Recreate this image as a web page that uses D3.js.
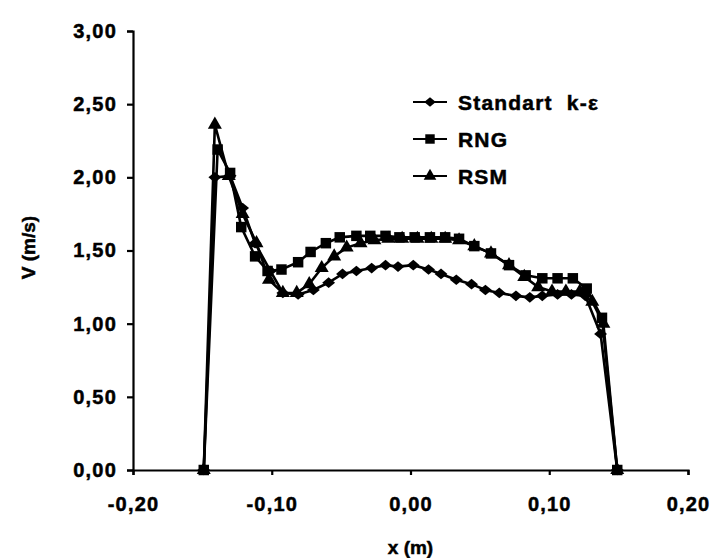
<!DOCTYPE html>
<html>
<head>
<meta charset="utf-8">
<script src="https://cdn.jsdelivr.net/npm/d3@7"></script>
<style>
  body { margin: 0; background: #fff; }
  svg text { font-family: "Liberation Sans", Arial, sans-serif; font-weight: bold; fill: #000; stroke: #000; stroke-width: 0.5px; }
</style>
</head>
<body>
<div id="chart"></div>
<script>
// series (x in m, V in m/s)
const xStd = [-0.149, -0.141, -0.130, -0.121, -0.112, -0.101, -0.092, -0.081, -0.070, -0.059, -0.049, -0.039, -0.028, -0.018, -0.009, 0.002, 0.013, 0.022, 0.033, 0.044, 0.054, 0.064, 0.076, 0.086, 0.095, 0.106, 0.116, 0.126, 0.137, 0.149];
const vStd = [0, 2.00, 2.01, 1.79, 1.55, 1.36, 1.21, 1.20, 1.23, 1.28, 1.34, 1.36, 1.38, 1.40, 1.39, 1.40, 1.37, 1.34, 1.30, 1.27, 1.23, 1.21, 1.19, 1.18, 1.19, 1.20, 1.20, 1.19, 0.93, 0];

const xRng = [-0.149, -0.139, -0.130, -0.122, -0.112, -0.103, -0.093, -0.081, -0.072, -0.061, -0.051, -0.039, -0.029, -0.018, -0.008, 0.003, 0.014, 0.025, 0.035, 0.046, 0.058, 0.071, 0.083, 0.095, 0.106, 0.117, 0.127, 0.138, 0.149];
const vRng = [0, 2.19, 2.03, 1.66, 1.46, 1.36, 1.37, 1.42, 1.49, 1.55, 1.59, 1.60, 1.60, 1.60, 1.59, 1.59, 1.59, 1.59, 1.58, 1.53, 1.48, 1.40, 1.33, 1.31, 1.31, 1.31, 1.24, 1.04, 0];

const xRsm = [-0.149, -0.141, -0.131, -0.121, -0.111, -0.102, -0.092, -0.082, -0.073, -0.064, -0.055, -0.046, -0.036, -0.026, -0.016, -0.006, 0.005, 0.015, 0.025, 0.035, 0.046, 0.058, 0.071, 0.082, 0.092, 0.102, 0.112, 0.122, 0.131, 0.139, 0.149];
const vRsm = [0, 2.36, 2.01, 1.75, 1.55, 1.30, 1.21, 1.21, 1.27, 1.38, 1.46, 1.52, 1.55, 1.57, 1.58, 1.58, 1.58, 1.58, 1.58, 1.57, 1.53, 1.48, 1.40, 1.32, 1.25, 1.22, 1.22, 1.22, 1.15, 1.00, 0];

const seriesNames = ["Standart  k-\u03b5", "RNG", "RSM"];
const xTicks = [-0.20, -0.10, 0.00, 0.10, 0.20];
const yTicks = [0, 0.5, 1.0, 1.5, 2.0, 2.5, 3.0];

const width = 714, height = 558;
const margin = {top: 31, right: 26, bottom: 88, left: 133};

const svg = d3.select("#chart").append("svg")
  .attr("width", width)
  .attr("height", height);

const x = d3.scaleLinear().domain([-0.2, 0.2]).range([margin.left, width - margin.right]);
const y = d3.scaleLinear().domain([0, 3]).range([height - margin.bottom, margin.top]);

const locale = d3.formatLocale({decimal: ",", thousands: ".", grouping: [3], currency: ["", ""], minus: "-"});
const fmt = locale.format(".2f");

// axes
const yAxis = svg.append("g")
  .attr("transform", `translate(${margin.left},0)`)
  .call(d3.axisLeft(y).tickValues(yTicks).tickFormat(fmt).tickSize(6).tickPadding(10));
const xAxis = svg.append("g")
  .attr("transform", `translate(0,${height - margin.bottom})`)
  .call(d3.axisBottom(x).tickValues(xTicks).tickFormat(fmt).tickSize(5).tickPadding(22));

[yAxis, xAxis].forEach(g => {
  g.selectAll("path, line").attr("stroke", "#000").attr("stroke-width", 2.2);
  g.selectAll("text").style("font-size", "20px").style("letter-spacing", "1.2px");
});

// axis titles
svg.append("text")
  .attr("transform", `translate(35,${y(1.52)}) rotate(-90)`)
  .attr("text-anchor", "middle")
  .style("font-size", "19px")
  .text("V (m/s)");
svg.append("text")
  .attr("x", x(0))
  .attr("y", 554)
  .attr("text-anchor", "middle")
  .style("font-size", "19px")
  .text("x (m)");

const series = [
  {name: seriesNames[0], xs: xStd, vs: vStd, type: d3.symbolDiamond2, size: 80, sx: 1.15, sy: 0.95},
  {name: seriesNames[1], xs: xRng, vs: vRng, type: d3.symbolSquare, size: 110, sx: 1, sy: 1},
  {name: seriesNames[2], xs: xRsm, vs: vRsm, type: d3.symbolTriangle, size: 85, sx: 1, sy: 1}
];

const line = d3.line().x(d => x(d[0])).y(d => y(d[1]));

series.forEach(s => {
  const pts = s.xs.map((v, i) => [v, s.vs[i]]);
  svg.append("path")
    .datum(pts)
    .attr("fill", "none")
    .attr("stroke", "#000")
    .attr("stroke-width", 2.6)
    .attr("d", line);
  svg.append("g")
    .selectAll("path")
    .data(pts)
    .join("path")
      .attr("transform", d => `translate(${x(d[0])},${y(d[1])}) scale(${s.sx},${s.sy})`)
      .attr("d", d3.symbol(s.type, s.size))
      .attr("fill", "#000");
});

// legend
const legend = svg.append("g").attr("transform", "translate(413,102)");
series.forEach((s, i) => {
  const g = legend.append("g").attr("transform", `translate(0,${i * 37})`);
  g.append("line").attr("x1", 0).attr("x2", 34).attr("stroke", "#000").attr("stroke-width", 2.2);
  g.append("path")
    .attr("transform", `translate(17,0) scale(${s.sx * 0.9},${s.sy * 0.9})`)
    .attr("d", d3.symbol(s.type, s.size))
    .attr("fill", "#000");
  g.append("text")
    .attr("x", 45)
    .attr("dy", "0.36em")
    .style("font-size", "21px")
    .style("letter-spacing", "1.2px")
    .style("white-space", "pre")
    .attr("xml:space", "preserve")
    .text(s.name);
});
</script>
</body>
</html>
